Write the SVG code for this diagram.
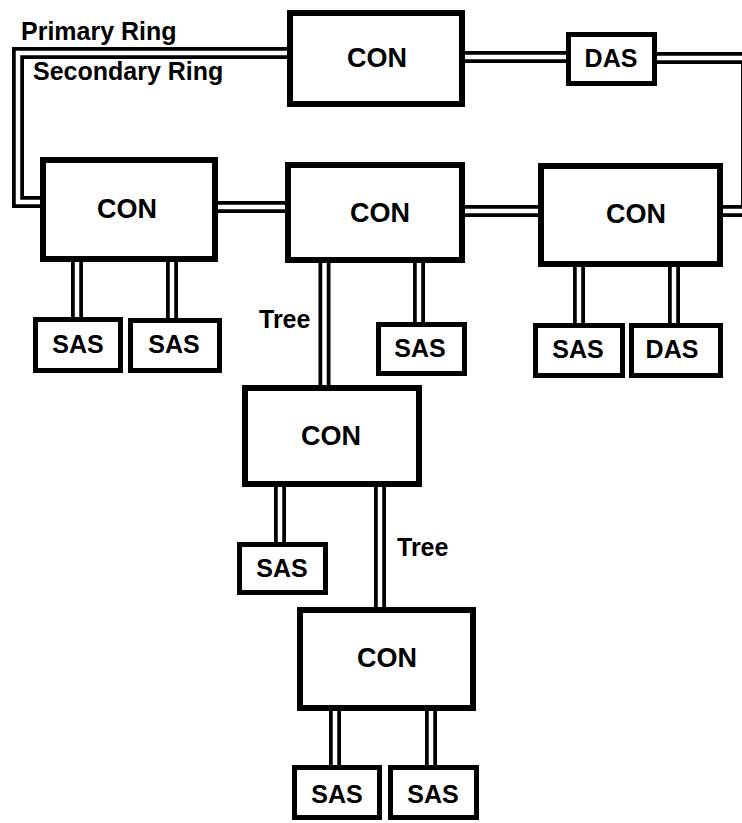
<svg xmlns="http://www.w3.org/2000/svg" xmlns:xlink="http://www.w3.org/1999/xlink" width="742" height="823" viewBox="0 0 742 823">
<style>
.bg{fill:#fff}
.big{fill:#fff;stroke:#000;stroke-width:6}
.sm{fill:#fff;stroke:#000;stroke-width:5}
.lo{fill:none;stroke:#000;stroke-width:12;stroke-linejoin:miter}
.li{fill:none;stroke:#fff;stroke-width:4.5;stroke-linejoin:miter}
text{font-family:"Liberation Sans",Arial,Helvetica,sans-serif;font-weight:bold;fill:#000;text-anchor:middle}
.t27{font-size:27px}
.t25{font-size:25px}
.lbl{font-size:25px;text-anchor:start}
</style>
<defs>
<path id="c1" d="M290 53 H18 V202 H43"/>
<path id="c2" d="M462 57 H568"/>
<path id="c3" d="M654 58 H747 V211 H720"/>
<path id="c4" d="M215 207 H288"/>
<path id="c5" d="M462 211 H541"/>
<path id="c6" d="M77 259 V320"/>
<path id="c7" d="M172 259 V321"/>
<path id="c8" d="M419 260 V325"/>
<path id="c9" d="M579 264 V326"/>
<path id="c10" d="M674 264 V326"/>
<path id="c11" d="M324.5 260 V388"/>
<path id="c12" d="M280 484 V545"/>
<path id="c13" d="M380 484 V610"/>
<path id="c14" d="M335 708 V768"/>
<path id="c15" d="M431 708 V768"/>
</defs>
<rect class="bg" x="0" y="0" width="742" height="823"/>
<g id="connectors">
<g class="lo">
<use xlink:href="#c1"/><use xlink:href="#c2"/><use xlink:href="#c3"/><use xlink:href="#c4"/><use xlink:href="#c5"/>
<use xlink:href="#c6"/><use xlink:href="#c7"/><use xlink:href="#c8"/><use xlink:href="#c9"/><use xlink:href="#c10"/>
<use xlink:href="#c11"/><use xlink:href="#c12"/><use xlink:href="#c13"/><use xlink:href="#c14"/><use xlink:href="#c15"/>
</g>
<g class="li">
<use xlink:href="#c1"/><use xlink:href="#c2"/><use xlink:href="#c3"/><use xlink:href="#c4"/><use xlink:href="#c5"/>
<use xlink:href="#c6"/><use xlink:href="#c7"/><use xlink:href="#c8"/><use xlink:href="#c9"/><use xlink:href="#c10"/>
<use xlink:href="#c11"/><use xlink:href="#c12"/><use xlink:href="#c13"/><use xlink:href="#c14"/><use xlink:href="#c15"/>
</g>
<text class="lbl" x="21" y="40">Primary Ring</text>
<text class="lbl" x="33" y="80">Secondary Ring</text>
<text class="lbl" x="259" y="328">Tree</text>
<text class="lbl" x="397" y="556">Tree</text>
</g>
<g id="con-top"><rect class="big" x="290" y="13" width="172" height="91"/><text class="t27" x="377" y="67">CON</text></g>
<g id="das-top"><rect class="sm" x="568.5" y="34.5" width="86" height="49"/><text class="t25" x="611" y="67">DAS</text></g>
<g id="con-left"><rect class="big" x="43" y="160" width="172" height="99"/><text class="t27" x="127" y="218">CON</text></g>
<g id="con-mid"><rect class="big" x="288" y="165" width="174" height="95"/><text class="t27" x="380" y="222">CON</text></g>
<g id="con-right"><rect class="big" x="541" y="166" width="179" height="98"/><text class="t27" x="636" y="223">CON</text></g>
<g id="con-3"><rect class="big" x="245" y="388" width="174" height="96"/><text class="t27" x="331" y="445">CON</text></g>
<g id="con-4"><rect class="big" x="300" y="610" width="173" height="98"/><text class="t27" x="387" y="667">CON</text></g>
<g id="sas-l1"><rect class="sm" x="35.5" y="319.5" width="85" height="51"/><text class="t25" x="78" y="353">SAS</text></g>
<g id="sas-l2"><rect class="sm" x="130.5" y="320.5" width="89" height="50"/><text class="t25" x="174" y="353">SAS</text></g>
<g id="sas-m"><rect class="sm" x="378.5" y="324.5" width="86" height="49"/><text class="t25" x="420" y="357">SAS</text></g>
<g id="sas-r"><rect class="sm" x="535.5" y="325.5" width="87" height="50"/><text class="t25" x="578" y="358">SAS</text></g>
<g id="das-r"><rect class="sm" x="631.5" y="325.5" width="89" height="50"/><text class="t25" x="672" y="358">DAS</text></g>
<g id="sas-c3"><rect class="sm" x="239.5" y="544.5" width="86" height="48"/><text class="t25" x="282" y="577">SAS</text></g>
<g id="sas-b1"><rect class="sm" x="294.5" y="767.5" width="85" height="50"/><text class="t25" x="337" y="803">SAS</text></g>
<g id="sas-b2"><rect class="sm" x="390.5" y="767.5" width="86" height="50"/><text class="t25" x="433" y="803">SAS</text></g>
</svg>
